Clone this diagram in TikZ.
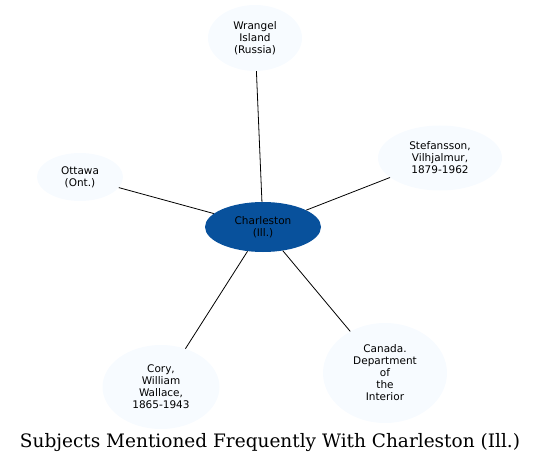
\documentclass[tikz,border=0pt]{standalone}
\usepackage{fontspec}
\setmainfont{DejaVu Serif}
\newfontfamily\nodefont{DejaVu Sans}
\usetikzlibrary{shapes.geometric}
\definecolor{pale}{HTML}{F7FBFF}
\definecolor{deepblue}{HTML}{08519C}

\begin{document}
\begin{tikzpicture}[x=1pt, y=-1pt,
  subj/.style={ellipse, fill=pale, inner sep=0pt, align=center,
    font=\nodefont\fontsize{10.5}{12}\selectfont},
  hub/.style={subj, fill=deepblue},
  link/.style={draw=black, line width=0.8pt}]
  \useasboundingbox (0,0) rectangle (540,465);
  \node[hub, minimum width=116pt, minimum height=50pt] (charleston) at (263,227) {Charleston\\(Ill.)};
  \node[subj, minimum width=94pt, minimum height=66pt] (wrangel) at (255,38) {Wrangel\\Island\\(Russia)};
  \node[subj, minimum width=124pt, minimum height=65pt] (stefansson) at (440,158) {Stefansson,\\Vilhjalmur,\\1879-1962};
  \node[subj, minimum width=86pt, minimum height=48pt] (ottawa) at (80,177) {Ottawa\\(Ont.)};
  \node[subj, minimum width=117pt, minimum height=84pt] (cory) at (161,387) {Cory,\\William\\Wallace,\\1865-1943};
  \node[subj, minimum width=124pt, minimum height=100pt] (canada) at (385,373) {Canada.\\Department\\of\\the\\Interior};
  \draw[link] (charleston) -- (wrangel);
  \draw[link] (charleston) -- (stefansson);
  \draw[link] (charleston) -- (ottawa);
  \draw[link] (charleston) -- (cory);
  \draw[link] (charleston) -- (canada);
  \node[font=\fontsize{18.5}{22}\selectfont] (title) at (270,443) {Subjects Mentioned Frequently With Charleston (Ill.)};
\end{tikzpicture}
\end{document}
